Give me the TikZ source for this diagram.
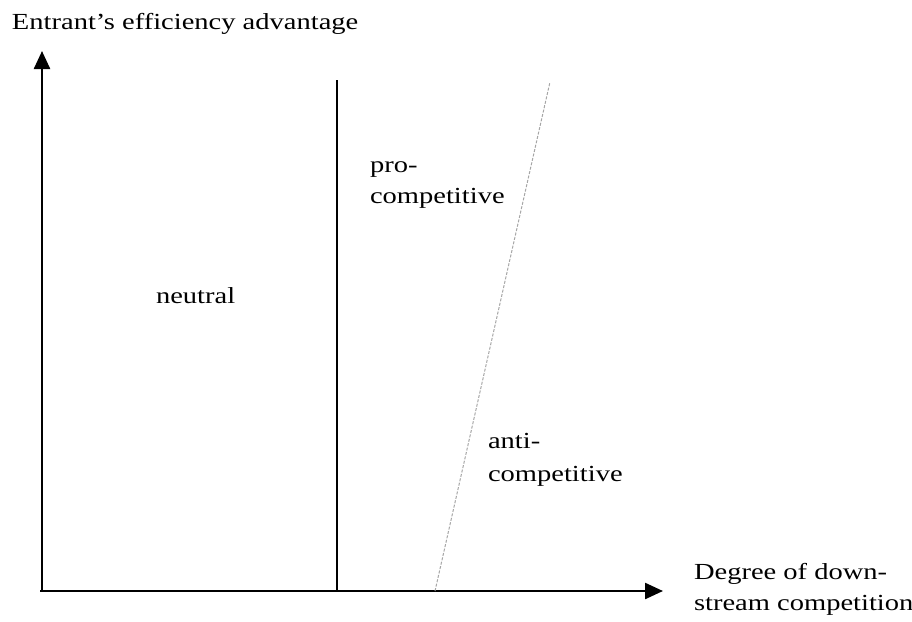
\documentclass[tikz,border=0pt]{standalone}
\usepackage{fontspec}
\setmainfont[FakeStretch=1.24]{Liberation Serif}
\usetikzlibrary{arrows.meta}
\begin{document}
\begin{tikzpicture}[x=1pt,y=-1pt,
  lbl/.style={inner sep=0pt,outer sep=0pt,anchor=base west,font=\fontsize{23}{31}\selectfont},
  axis/.style={line width=2.4pt,-{Triangle[width=16pt,length=18pt]}},
  divider/.style={line width=2pt},
  border/.style={gray!70,line width=1pt,dash pattern=on 3pt off 1.5pt}]
\useasboundingbox (0,0) rectangle (912,621);
\coordinate (O) at (42,591);
\coordinate (xs) at (40,591);
\coordinate (xe) at (663,591);
\coordinate (ye) at (42,51);
\coordinate (vt) at (337,80);
\coordinate (vb) at (337,591);
\coordinate (dt) at (550,82);
\coordinate (db) at (435,591);
\draw[axis] (xs) -- (xe);
\draw[axis] (O) -- (ye);
\draw[divider] (vb) -- (vt);
\draw[border] (db) -- (dt);
\node[lbl] (ylab) at (12,29) {Entrant’s efficiency advantage};
\node[lbl] (neu) at (156,303) {neutral};
\node[lbl] (pro1) at (370,172) {pro-};
\node[lbl] (pro2) at (370,203) {competitive};
\node[lbl] (anti1) at (488,448) {anti-};
\node[lbl] (anti2) at (488,481) {competitive};
\node[lbl] (xl1) at (694,579) {Degree of down-};
\node[lbl] (xl2) at (694,610) {stream competition};
\end{tikzpicture}
\end{document}
